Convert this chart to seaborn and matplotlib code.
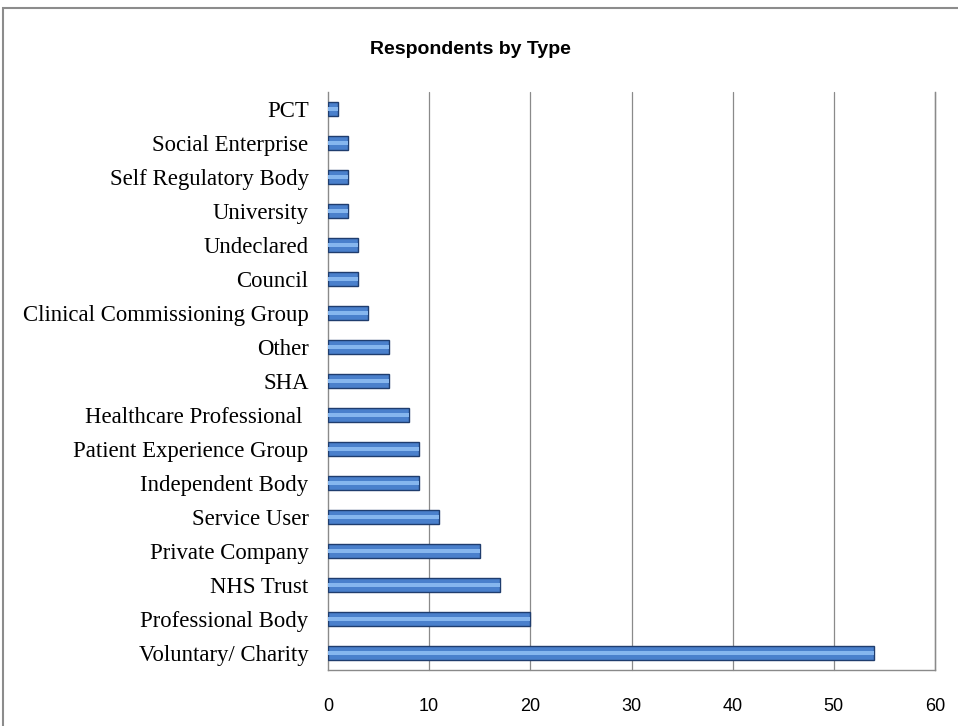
import matplotlib.pyplot as plt
import matplotlib.patches as mpatches
import pandas as pd
import seaborn as sns

categories = [
    "PCT", "Social Enterprise", "Self Regulatory Body", "University",
    "Undeclared", "Council", "Clinical Commissioning Group", "Other", "SHA",
    "Healthcare Professional ", "Patient Experience Group", "Independent Body",
    "Service User", "Private Company", "NHS Trust", "Professional Body",
    "Voluntary/ Charity",
]
counts = [1, 2, 2, 2, 3, 3, 4, 6, 6, 8, 9, 9, 11, 15, 17, 20, 54]
x_ticks = [0, 10, 20, 30, 40, 50, 60]

df = pd.DataFrame({"type": categories, "n": counts})

sns.set_style("white")
fig = plt.figure(figsize=(9.58, 7.26), dpi=100)
ax = fig.add_axes([0.3424, 0.0771, 0.976 - 0.3424, 0.8733 - 0.0771])

# outer chart frame
fig.patches.append(mpatches.Rectangle((3 / 958, -0.05), 1.1, 1 - 8 / 726 + 0.05,
                                      transform=fig.transFigure, fill=False,
                                      edgecolor="#8c8c8c", linewidth=1.5))

for v in x_ticks[1:]:
    ax.axvline(v, color="#8a8a8a", linewidth=0.9, zorder=0, clip_on=False)

sns.barplot(data=df, x="n", y="type", orient="h", width=0.42,
            color="#4a80cc", edgecolor="#1f3d6e", linewidth=1.0,
            saturation=1, ax=ax, zorder=3)
# lighter highlight stripe to mimic the bevel
sns.barplot(data=df, x="n", y="type", orient="h", width=0.14,
            color="#86b6ee", linewidth=0, saturation=1, ax=ax, zorder=4)

ax.set_xlim(0, 60)
ax.set_ylim(16.5, -0.5)
ax.set_xticks(x_ticks)
ax.set_xlabel("")
ax.set_ylabel("")
ax.tick_params(axis="x", length=0, pad=20, labelsize=13, labelcolor="black")
ax.tick_params(axis="y", length=0, pad=14, labelcolor="black")
for lab in ax.get_xticklabels():
    lab.set_family("Liberation Sans")
for lab in ax.get_yticklabels():
    lab.set_family("Liberation Serif")
    lab.set_fontsize(16.4)

ax.spines["top"].set_visible(False)
for s in ["left", "bottom", "right"]:
    ax.spines[s].set_color("#8a8a8a")
    ax.spines[s].set_linewidth(1.0)

fig.text(470 / 958, 1 - 50 / 726, "Respondents by Type", ha="center", va="center",
         fontsize=14, fontweight="bold", family="Liberation Sans", color="black")

fig.savefig("out.png", dpi=100)
